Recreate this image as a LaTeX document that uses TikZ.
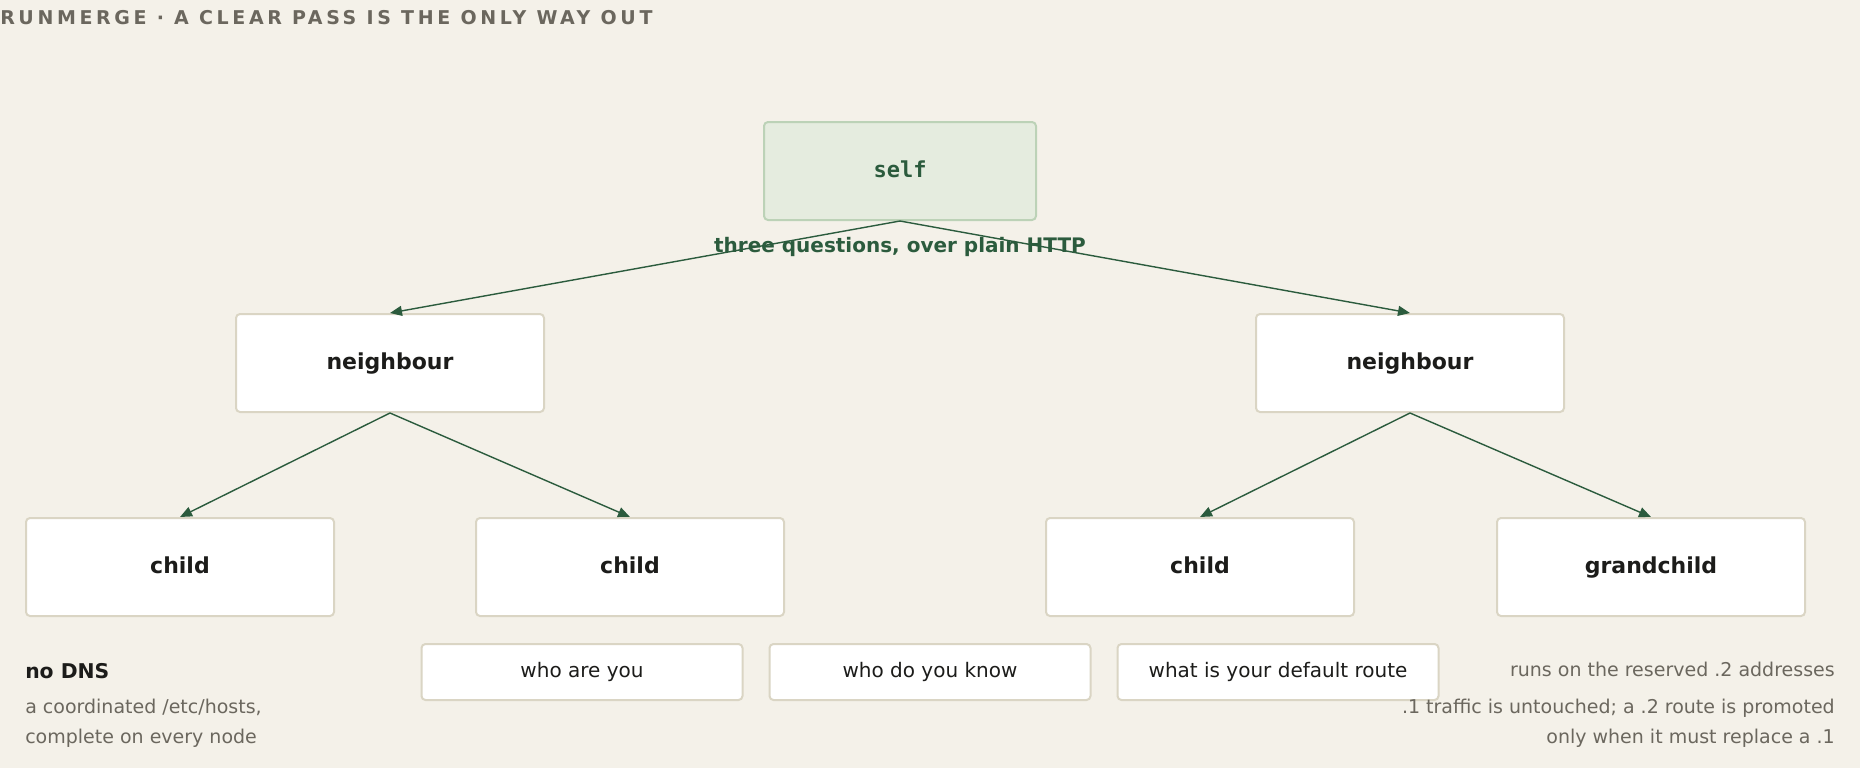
\documentclass[tikz,border=0pt]{standalone}
\usepackage{fontspec}
\setmainfont{DejaVu Sans}
\newfontfamily\monofont{DejaVu Sans Mono}
\newfontfamily\titlefont[LetterSpace=19]{DejaVu Sans}
\usetikzlibrary{arrows.meta}
\definecolor{bg}{rgb}{0.957,0.945,0.914}
\definecolor{c0}{rgb}{0.855,0.835,0.770}
\definecolor{c1}{rgb}{0.169,0.357,0.239}
\definecolor{c2}{rgb}{0.898,0.925,0.875}
\definecolor{c3}{rgb}{0.737,0.824,0.718}
\definecolor{ink}{rgb}{0.110,0.110,0.102}
\definecolor{mute}{rgb}{0.420,0.404,0.369}
\NewDocumentCommand\fsz{m}{\fontsize{#1}{#1}\selectfont}
\tikzset{%
  box/.style={draw=c0,fill=white,rounded corners=3pt,line width=1.5pt,inner sep=0pt,
    minimum width=231pt,minimum height=73.5pt,text height=10.5pt,text depth=1.5pt,
    text=ink,font=\bfseries\fsz{16.5pt}},
  selfbox/.style={box,draw=c3,fill=c2,minimum width=204pt,text=c1,
    font=\monofont\bfseries\fsz{16.5pt}},
  ask/.style={draw=c0,fill=white,rounded corners=3pt,line width=1.5pt,inner sep=0pt,
    minimum width=240.75pt,minimum height=42pt,text height=9pt,text depth=1.5pt,
    text=ink,font=\fsz{15pt}},
  note/.style={inner sep=0pt,text=mute,font=\fsz{14.25pt}},
  link/.style={draw=c1,line width=1.05pt,-{Triangle[length=9pt,width=7.5pt]}}
}

\begin{document}
\begin{tikzpicture}[x=0.75pt,y=-0.75pt]
  \useasboundingbox[fill=bg] (0,0) rectangle (1860,768);
  \node[anchor=base west,inner sep=0pt,text=mute,font=\titlefont\bfseries\fsz{14.25pt}]
    (title) at (0,24) {RUNMERGE · A CLEAR PASS IS THE ONLY WAY OUT};
  \coordinate (p0) at (900,171);
  \coordinate (a0) at (390,363);
  \coordinate (a1) at (1410,363);
  \coordinate (b0) at (180,567);
  \coordinate (b1) at (630,567);
  \coordinate (b2) at (1200,567);
  \coordinate (b3) at (1651,567);
  \coordinate (q0) at (582,672);
  \coordinate (q1) at (930,672);
  \coordinate (q2) at (1278,672);
  %%%
  \node[selfbox] (self) at (p0) {self};
  \node[box] (n0) at (a0) {neighbour};
  \node[box] (n1) at (a1) {neighbour};
  \node[box] (m0) at (b0) {child};
  \node[box] (m1) at (b1) {child};
  \node[box] (m2) at (b2) {child};
  \node[box] (m3) at (b3) {grandchild};
  %%
  \node[anchor=base,inner sep=0pt,text=c1,font=\bfseries\fsz{15pt}] (how) at (900,252)
    {three questions, over plain HTTP};
  \draw[link] (self.south) -- (n0.north);
  \draw[link] (self.south) -- (n1.north);
  \draw[link] (n0.south) -- (m0.north);
  \draw[link] (n0.south) -- (m1.north);
  \draw[link] (n1.south) -- (m2.north);
  \draw[link] (n1.south) -- (m3.north);
  %%
  \node[ask] (r0) at (q0) {who are you};
  \node[ask] (r1) at (q1) {who do you know};
  \node[ask] (r2) at (q2) {what is your default route};
  %%
  \node[note,anchor=base west,text=ink,font=\bfseries\fsz{15.25pt}] (dns) at (25,678) {no DNS};
  \node[note,anchor=base west] (dns1) at (25,713) {a coordinated /etc/hosts,};
  \node[note,anchor=base west] (dns2) at (25,743) {complete on every node};
  \node[note,anchor=base east] (two0) at (1835,676) {runs on the reserved .2 addresses};
  \node[note,anchor=base east] (two1) at (1835,713) {.1 traffic is untouched; a .2 route is promoted};
  \node[note,anchor=base east] (two2) at (1835,743) {only when it must replace a .1};
\end{tikzpicture}
\end{document}
